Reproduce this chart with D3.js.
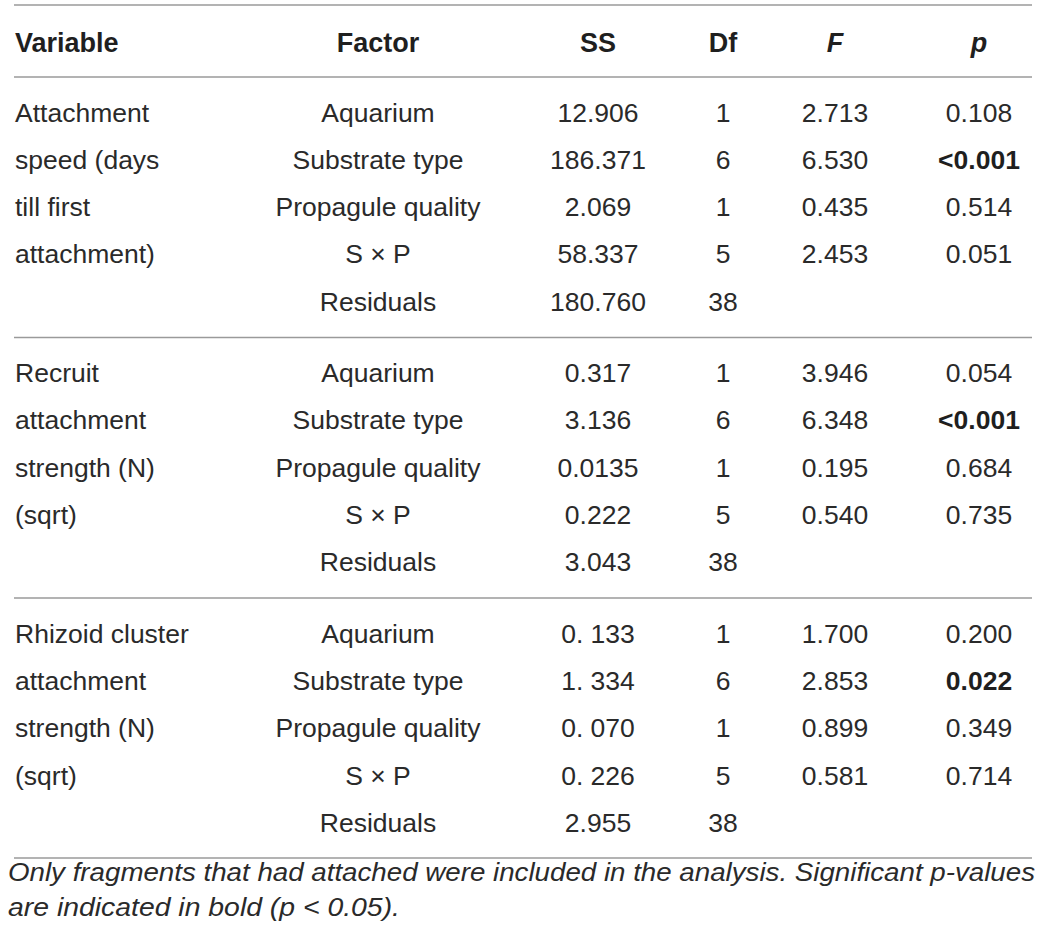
<!DOCTYPE html>
<html><head><meta charset="utf-8">
<script src="https://cdn.jsdelivr.net/npm/d3@7"></script>
<style>body{margin:0;background:#fff;} svg{display:block;}</style>
</head><body>
<script>
const headers = ["Variable","Factor","SS","Df","F","p"];
const variables = [
  ["Attachment","speed (days","till first","attachment)"],
  ["Recruit","attachment","strength (N)","(sqrt)"],
  ["Rhizoid cluster","attachment","strength (N)","(sqrt)"]
];
const factors = ["Aquarium","Substrate type","Propagule quality","S \u00d7 P","Residuals"];
const ssValues = [
  ["12.906","186.371","2.069","58.337","180.760"],
  ["0.317","3.136","0.0135","0.222","3.043"],
  ["0. 133","1. 334","0. 070","0. 226","2.955"]
];
const dfValues = [
  ["1","6","1","5","38"],
  ["1","6","1","5","38"],
  ["1","6","1","5","38"]
];
const fValues = [
  ["2.713","6.530","0.435","2.453",""],
  ["3.946","6.348","0.195","0.540",""],
  ["1.700","2.853","0.899","0.581",""]
];
const pValues = [
  ["0.108","<0.001","0.514","0.051",""],
  ["0.054","<0.001","0.684","0.735",""],
  ["0.200","0.022","0.349","0.714",""]
];
const pBold = [
  [false,true,false,false,false],
  [false,true,false,false,false],
  [false,true,false,false,false]
];
const footnote = [
  "Only fragments that had attached were included in the analysis. Significant p-values",
  "are indicated in bold (p < 0.05)."
];

const W = 1038, H = 944;
const svg = d3.select("body").append("svg").attr("width", W).attr("height", H);
const font = "'Liberation Sans', Arial, sans-serif";
const txt = "#2a2a2a";

// column positions (centres, except Variable which is left-aligned)
const colX = d3.scaleOrdinal().domain(headers).range([15, 378, 598, 723, 835, 979]);
// group and row position scales
const groupY = d3.scaleLinear().domain([0, 1]).range([112, 372.6]);
const rowStep = d3.scaleLinear().domain([0, 1]).range([0, 47.3]);
const yOf = (g, r) => groupY(g) + rowStep(r);

// horizontal rules
const rules = [5, 77, 337.5, 598, 858];
svg.selectAll("line.rule").data(rules).join("line")
  .attr("x1", 14).attr("x2", 1032)
  .attr("y1", d => d).attr("y2", d => d)
  .attr("stroke", "#9a9a9a").attr("stroke-width", 1.6);

// header
svg.selectAll("text.hdr").data(headers).join("text")
  .attr("x", d => colX(d)).attr("y", 42).attr("dy", "0.36em")
  .attr("text-anchor", (d, i) => i === 0 ? "start" : "middle")
  .attr("font-family", font).attr("font-size", 27).attr("font-weight", "bold")
  .attr("font-style", d => (d === "F" || d === "p") ? "italic" : "normal")
  .attr("fill", "#1f1f1f").text(d => d);

// body cells
const cells = [];
variables.forEach((lines, g) => {
  lines.forEach((l, r) => cells.push({col: "Variable", g, r, t: l, b: false}));
  factors.forEach((f, r) => {
    cells.push({col: "Factor", g, r, t: f, b: false});
    cells.push({col: "SS", g, r, t: ssValues[g][r], b: false});
    cells.push({col: "Df", g, r, t: dfValues[g][r], b: false});
    cells.push({col: "F", g, r, t: fValues[g][r], b: false});
    cells.push({col: "p", g, r, t: pValues[g][r], b: pBold[g][r]});
  });
});
svg.selectAll("text.cell").data(cells.filter(c => c.t !== "")).join("text")
  .attr("x", d => colX(d.col)).attr("y", d => yOf(d.g, d.r)).attr("dy", "0.36em")
  .attr("text-anchor", d => d.col === "Variable" ? "start" : "middle")
  .attr("font-family", font).attr("font-size", 26.5)
  .attr("font-weight", d => d.b ? "bold" : "normal")
  .attr("fill", d => d.b ? "#1f1f1f" : txt).text(d => d.t);

// footnote
svg.selectAll("text.foot").data(footnote).join("text")
  .attr("x", 8).attr("y", (d, i) => 872 + i * 35).attr("dy", "0.36em")
  .attr("font-family", font).attr("font-size", 25).attr("font-style", "italic")
  .attr("fill", txt)
  .attr("textLength", (d, i) => i === 0 ? 1027 : 392)
  .attr("lengthAdjust", "spacingAndGlyphs")
  .text(d => d);
</script>
</body></html>
